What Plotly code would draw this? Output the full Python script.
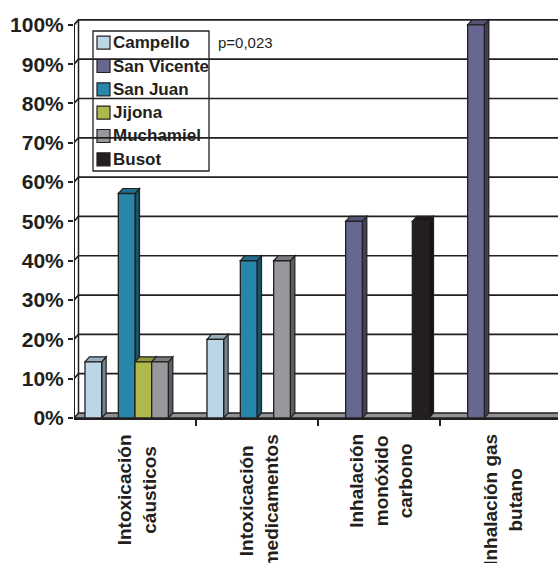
import plotly.graph_objects as go

# Data: share (%) of each municipality within each type of poisoning
categories = [
    "Intoxicación<br>cáusticos",
    "Intoxicación<br>medicamentos",
    "Inhalación<br>monóxido<br>carbono",
    "Inhalación gas<br>butano",
]
series_names = ["Campello", "San Vicente", "San Juan", "Jijona", "Muchamiel", "Busot"]
campello = [14.3, 20.0, 0, 0]
san_vicente = [0, 0, 50.0, 100.0]
san_juan = [57.1, 40.0, 0, 0]
jijona = [14.3, 0, 0, 0]
muchamiel = [14.3, 40.0, 0, 0]
busot = [0, 0, 50.0, 0]
series_values = [campello, san_vicente, san_juan, jijona, muchamiel, busot]
y_ticks = list(range(0, 101, 10))
y_tick_labels = [f"{v}%" for v in y_ticks]
p_text = "p=0,023"

colors = ["#BDD6E6", "#676892", "#2887A8", "#AEBB4C", "#97989C", "#231F20"]
INK = "#231F20"
FONT = "Liberation Sans, Arial, sans-serif"

# Figure geometry (pixels)
W, H = 558, 563
ML, MR, MT, MB = 74, 0, 17, 145
PW, PH = W - ML - MR, H - MT - MB
Y_MAX = 102.0
PX_PER_CAT = 122.0
X0 = -0.5
X1 = X0 + PW / PX_PER_CAT

# 3D depth offsets in data units
DX = 4.5 / PX_PER_CAT
DY = 5.0 / (PH / Y_MAX)

n_series = len(series_names)
group_w = 0.82
slot = group_w / n_series


def px_x(px):
    return (px - ML) / PW


def px_y(py):
    return (H - MB - py) / PH


def shade(hex_color, f):
    r, g, b = (int(hex_color[i:i + 2], 16) for i in (1, 3, 5))
    return "#{:02X}{:02X}{:02X}".format(int(r * f), int(g * f), int(b * f))


fig = go.Figure()
xs = list(range(len(categories)))
for i, (name, vals) in enumerate(zip(series_names, series_values)):
    fig.add_trace(go.Bar(
        x=xs,
        y=[v if v > 0 else None for v in vals],
        name=name,
        width=slot,
        offset=-group_w / 2 + i * slot,
        marker=dict(color=colors[i], line=dict(color=INK, width=1.3)),
        showlegend=False,
    ))

shapes = []
# floor
shapes.append(dict(
    type="path", xref="x", yref="y", layer="below",
    path=f"M {X0},0 L {X1 + 1},0 L {X1 + 1 + DX},{DY} L {X0 + DX},{DY} Z",
    fillcolor="#8F9194", line=dict(color=INK, width=1.5),
))
# back-wall gridlines with the short side-wall segment
for v in y_ticks[1:]:
    shapes.append(dict(
        type="path", xref="x", yref="y", layer="below",
        path=f"M {X0},{v} L {X0 + DX},{v + DY} L {X1 + 1},{v + DY}",
        line=dict(color=INK, width=1.7),
    ))
# wall edges
shapes.append(dict(type="line", xref="x", yref="y", layer="below",
                   x0=X0 + DX, x1=X0 + DX, y0=DY, y1=100 + DY,
                   line=dict(color=INK, width=1.5)))
shapes.append(dict(type="line", xref="x", yref="y", layer="below",
                   x0=X0, x1=X0, y0=0, y1=100,
                   line=dict(color=INK, width=2)))

# legend box
LX0, LX1, LY0, LY1 = 93, 209, 31, 171
shapes.append(dict(type="rect", xref="paper", yref="paper", layer="below",
                   x0=px_x(LX0), x1=px_x(LX1), y0=px_y(LY1), y1=px_y(LY0),
                   fillcolor="white", line=dict(color=INK, width=1.3)))
annotations = []
item_step = (LY1 - LY0) / n_series
for i, name in enumerate(series_names):
    cy = LY0 + item_step * (i + 0.5)
    shapes.append(dict(type="rect", xref="paper", yref="paper", layer="below",
                       x0=px_x(97), x1=px_x(110), y0=px_y(cy + 6.5), y1=px_y(cy - 6.5),
                       fillcolor=colors[i], line=dict(color=INK, width=1.2)))
    annotations.append(dict(
        xref="paper", yref="paper", x=px_x(111), y=px_y(cy),
        xanchor="left", yanchor="middle", showarrow=False, text=f"<b>{name}</b>",
        font=dict(family=FONT, size=17, color=INK),
    ))

# side and top faces of each bar, drawn left to right
for c in xs:
    for i, vals in enumerate(series_values):
        v = vals[c]
        if v <= 0:
            continue
        xl = c - group_w / 2 + i * slot
        xr = xl + slot
        shapes.append(dict(
            type="path", xref="x", yref="y", layer="below",
            path=f"M {xr},0 L {xr + DX},{DY} L {xr + DX},{v + DY} L {xr},{v} Z",
            fillcolor=shade(colors[i], 0.62), line=dict(color=INK, width=1.2),
        ))
        shapes.append(dict(
            type="path", xref="x", yref="y", layer="below",
            path=f"M {xl},{v} L {xr},{v} L {xr + DX},{v + DY} L {xl + DX},{v + DY} Z",
            fillcolor=shade(colors[i], 0.82), line=dict(color=INK, width=1.2),
        ))

# category labels
for c, label in zip(xs, categories):
    annotations.append(dict(
        xref="x", yref="paper", x=c + 0.015, y=px_y(432),
        xanchor="center", yanchor="top", textangle=-90, showarrow=False,
        text=f"<b>{label}</b>", align="center",
        font=dict(family=FONT, size=19, color=INK),
    ))

annotations.append(dict(
    xref="paper", yref="paper", x=px_x(216), y=px_y(42),
    xanchor="left", yanchor="middle", showarrow=False, text=p_text,
    font=dict(family=FONT, size=15, color=INK),
))

fig.update_layout(
    width=W, height=H,
    margin=dict(l=ML, r=MR, t=MT, b=MB, pad=0),
    paper_bgcolor="white", plot_bgcolor="white",
    barmode="overlay",
    shapes=shapes, annotations=annotations,
    xaxis=dict(
        range=[X0, X1], showgrid=False, zeroline=False,
        showline=True, linecolor=INK, linewidth=2,
        tickmode="array", tickvals=[0.5, 1.5, 2.5], ticks="outside",
        ticklen=6, tickwidth=1.5, tickcolor=INK, showticklabels=False,
    ),
    yaxis=dict(
        range=[0, Y_MAX], showgrid=False, zeroline=False, showline=False,
        tickmode="array", tickvals=y_ticks, ticktext=y_tick_labels,
        ticks="outside", ticklen=5, tickwidth=1.5, tickcolor=INK,
        tickfont=dict(family=FONT, size=21, color=INK, weight="bold"),
    ),
)

fig.write_html("out.html")
